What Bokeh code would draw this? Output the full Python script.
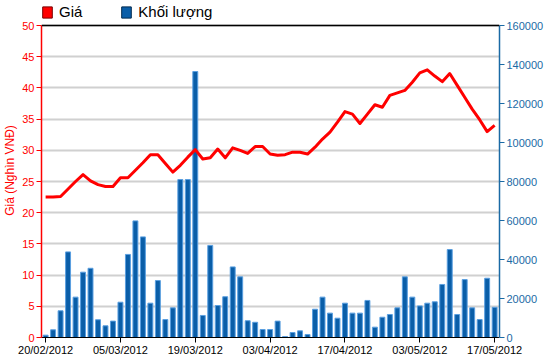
from bokeh.plotting import figure
from bokeh.models import (Range1d, LinearAxis, FixedTicker, ColumnDataSource, Legend,
                          LegendItem, Span, BasicTickFormatter)
from bokeh.embed import file_html
from bokeh.resources import INLINE

dates = [
    "20/02/2012", "21/02/2012", "22/02/2012", "23/02/2012", "24/02/2012",
    "27/02/2012", "28/02/2012", "29/02/2012", "01/03/2012", "02/03/2012",
    "05/03/2012", "06/03/2012", "07/03/2012", "08/03/2012", "09/03/2012",
    "12/03/2012", "13/03/2012", "14/03/2012", "15/03/2012", "16/03/2012",
    "19/03/2012", "20/03/2012", "21/03/2012", "22/03/2012", "23/03/2012",
    "26/03/2012", "27/03/2012", "28/03/2012", "29/03/2012", "30/03/2012",
    "03/04/2012", "04/04/2012", "05/04/2012", "06/04/2012", "09/04/2012",
    "10/04/2012", "11/04/2012", "12/04/2012", "13/04/2012", "16/04/2012",
    "17/04/2012", "18/04/2012", "19/04/2012", "20/04/2012", "23/04/2012",
    "24/04/2012", "25/04/2012", "26/04/2012", "27/04/2012", "02/05/2012",
    "03/05/2012", "04/05/2012", "07/05/2012", "08/05/2012", "09/05/2012",
    "10/05/2012", "11/05/2012", "14/05/2012", "15/05/2012", "16/05/2012",
    "17/05/2012",
]

prices = [
    22.5, 22.5, 22.6, 23.8, 25.0, 26.1, 25.1, 24.5, 24.2, 24.2,
    25.6, 25.6, 26.8, 28.0, 29.3, 29.3, 27.9, 26.5, 27.6, 28.9,
    30.1, 28.6, 28.8, 30.2, 28.8, 30.4, 30.0, 29.5, 30.6, 30.6,
    29.4, 29.2, 29.3, 29.7, 29.7, 29.4, 30.5, 31.8, 32.9, 34.5,
    36.2, 35.8, 34.3, 35.8, 37.3, 36.9, 38.8, 39.2, 39.6, 40.9,
    42.4, 42.9, 41.9, 41.0, 42.3, 40.4, 38.5, 36.6, 34.9, 33.0,
    34.0,
]

volumes = [
    1200, 3950, 13700, 43900, 20700, 33500, 35500, 9100, 6000, 8400,
    18100, 42600, 59800, 51600, 17600, 29200, 9200, 15200, 81000, 81000,
    136400, 11300, 47200, 16400, 20900, 36200, 31100, 8600, 7800, 4100,
    4100, 8400, 500, 2560, 3400, 1540, 14500, 20700, 12500, 9900,
    17600, 12500, 12500, 19000, 5300, 10400, 11800, 15200, 31100, 20700,
    16200, 17600, 18300, 27200, 45100, 11800, 29700, 15200, 9200, 30400,
    15500,
]

series_names = ["Giá", "Khối lượng"]
left_axis_title = "Giá (Nghìn VNĐ)"
left_ticks = list(range(0, 51, 5))
right_ticks = list(range(0, 160001, 20000))
x_label_ticks = list(range(0, 61, 10))
PRICE_MAX, VOL_MAX = 50, 160000

RED = "#ff0000"
BLUE = "#0a5ea8"
AXBLUE = "#1a6aa5"
FONT = "Liberation Sans"

W, H = 546, 358
TOP, BOTTOM_AXIS = 3, 21
frame_h = H - TOP - BOTTOM_AXIS
axis_h = 312                      # pixel height of the 0..50 part of the frame
k = frame_h / axis_h              # headroom for the legend above the 50 line

x = list(range(len(dates)))
src = ColumnDataSource(dict(x=x, price=prices, vol=volumes))

p = figure(width=W, height=H, output_backend="svg", toolbar_location=None,
           x_range=Range1d(-0.55, len(dates) - 1 + 0.65),
           y_range=Range1d(0, PRICE_MAX * k),
           min_border_left=0, min_border_right=0, min_border_top=TOP, min_border_bottom=0)
p.extra_y_ranges = {"vol": Range1d(0, VOL_MAX * k)}
p.outline_line_color = None
p.background_fill_color = "white"

p.xgrid.visible = False
p.ygrid.grid_line_color = "#d0d0d0"
p.ygrid.grid_line_width = 2
p.ygrid.ticker = FixedTicker(ticks=left_ticks)

# left axis
ya = p.yaxis[0]
ya.ticker = FixedTicker(ticks=left_ticks)
ya.bounds = (0, PRICE_MAX)
ya.axis_line_color = RED
ya.axis_line_width = 1.5
ya.major_tick_line_color = RED
ya.major_tick_out = 5
ya.major_tick_in = 0
ya.minor_tick_line_color = None
ya.major_label_text_color = RED
ya.major_label_text_font = FONT
ya.major_label_text_font_size = "11px"
ya.major_label_standoff = 2
ya.axis_label = left_axis_title
ya.axis_label_text_color = RED
ya.axis_label_text_font = FONT
ya.axis_label_text_font_size = "12px"
ya.axis_label_text_font_style = "normal"
ya.axis_label_standoff = 2

# bottom axis
xa = p.xaxis[0]
xa.ticker = FixedTicker(ticks=x_label_ticks)
xa.major_label_overrides = {i: dates[i] for i in x_label_ticks}
xa.axis_line_color = "black"
xa.major_tick_line_color = "black"
xa.major_tick_out = 5
xa.major_tick_in = 0
xa.minor_tick_line_color = None
xa.major_label_text_font = FONT
xa.major_label_text_font_size = "11px"
xa.major_label_text_color = "black"
xa.major_label_standoff = 1

# right axis
ra = LinearAxis(y_range_name="vol", ticker=FixedTicker(ticks=right_ticks),
                formatter=BasicTickFormatter(use_scientific=False))
ra.bounds = (0, VOL_MAX)
ra.axis_line_color = AXBLUE
ra.axis_line_width = 1.5
ra.major_tick_line_color = AXBLUE
ra.major_tick_out = 5
ra.major_tick_in = 0
ra.minor_tick_line_color = None
ra.major_label_text_color = AXBLUE
ra.major_label_text_font = FONT
ra.major_label_text_font_size = "11px"
ra.major_label_standoff = 2
p.add_layout(ra, "right")

p.add_layout(Span(location=PRICE_MAX, dimension="width", line_color="black", line_width=1.5))

p.vbar(x="x", top="vol", width=0.66, y_range_name="vol", source=src,
       fill_color=BLUE, line_color="#5a9fe0", line_width=1)
p.line("x", "price", source=src, line_color=RED, line_width=3, line_join="round")

# legend swatches (off-range dummy points)
r1 = p.vbar(x="x", top="top", width=1, source=ColumnDataSource(dict(x=[-100], top=[1])),
            fill_color=RED, line_color="#7a0000", line_width=1)
r2 = p.vbar(x="x", top="top", width=1, source=ColumnDataSource(dict(x=[-100], top=[1])),
            fill_color=BLUE, line_color="#002a50", line_width=1)
legend = Legend(items=[LegendItem(label=series_names[0], renderers=[r1]),
                       LegendItem(label=series_names[1], renderers=[r2])],
                orientation="horizontal", location="top_left")
legend.glyph_width = 12
legend.glyph_height = 14
legend.label_standoff = 6
legend.spacing = 38
legend.padding = 1
legend.margin = 0
legend.border_line_color = None
legend.background_fill_alpha = 0
legend.label_text_font = FONT
legend.label_text_font_size = "15px"
legend.label_text_color = "black"
p.add_layout(legend, "center")

open("out.html", "w").write(file_html(p, INLINE))
